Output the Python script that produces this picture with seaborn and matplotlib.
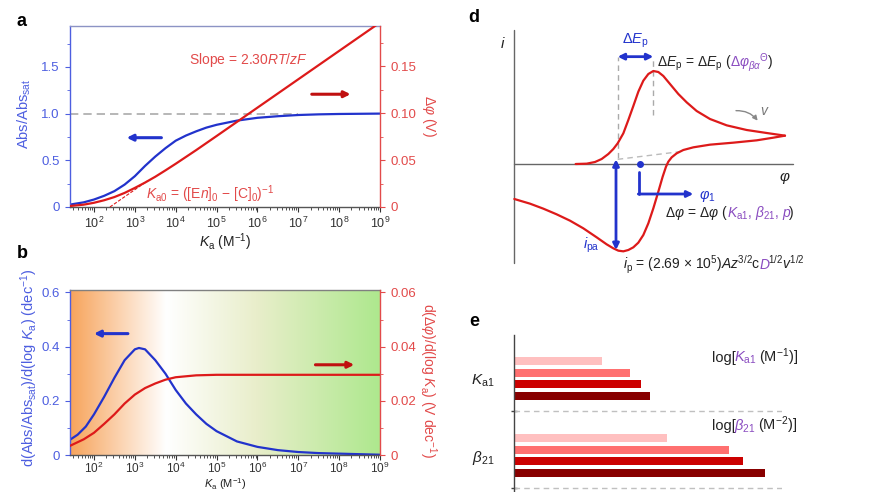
import numpy as np
import pandas as pd
import matplotlib
matplotlib.use("Agg")
import matplotlib.pyplot as plt
import seaborn as sns
from matplotlib.colors import LinearSegmentedColormap
from matplotlib.offsetbox import TextArea, HPacker, AnnotationBbox
from matplotlib.ticker import LogLocator, NullFormatter, FixedLocator

# ---------------- data ----------------
# panel a : Abs/Abs_sat (left axis) and delta-phi (right axis) vs log Ka
abs_logKa = [1.4, 1.75, 2.0, 2.25, 2.5, 2.75, 3.0, 3.25, 3.5, 3.75, 4.0, 4.25, 4.5, 4.75,
             5.0, 5.5, 6.0, 6.5, 7.0, 7.5, 8.0, 9.0]
abs_vals = [0.025, 0.05, 0.08, 0.12, 0.17, 0.24, 0.33, 0.44, 0.54, 0.63, 0.71, 0.765, 0.81,
            0.85, 0.88, 0.925, 0.955, 0.972, 0.985, 0.992, 0.996, 1.0]
dphi_logKa = [1.4, 1.75, 2.0, 2.25, 2.5, 2.75, 3.0, 3.25, 3.5, 3.75, 4.0, 4.5, 5.0, 6.0, 7.0, 8.0, 9.0]
dphi_vals = [0.001, 0.0025, 0.0045, 0.0072, 0.0106, 0.015, 0.0203, 0.026, 0.0322, 0.039,
             0.046, 0.0605, 0.0755, 0.1057, 0.1359, 0.1661, 0.1963]
asym_logKa = [2.39, 3.3]
asym_vals = [0.0, 0.0275]
sat_level = 1.0
sat_end_logKa = 7.0

# panel b : derivatives
dabs_logKa = [1.4, 1.6, 1.8, 2.0, 2.25, 2.5, 2.75, 3.0, 3.1, 3.25, 3.5, 3.75, 4.0, 4.25, 4.5,
              4.75, 5.0, 5.5, 6.0, 6.5, 7.0, 7.5, 8.0, 8.5, 9.0]
dabs_vals = [0.055, 0.075, 0.105, 0.15, 0.215, 0.285, 0.35, 0.39, 0.395, 0.39, 0.35, 0.30,
             0.24, 0.19, 0.15, 0.115, 0.088, 0.05, 0.03, 0.018, 0.011, 0.007, 0.005, 0.003, 0.001]
ddphi_logKa = [1.4, 1.75, 2.0, 2.25, 2.5, 2.75, 3.0, 3.25, 3.5, 3.75, 4.0, 4.5, 5.0, 6.0, 7.0, 8.0, 9.0]
ddphi_vals = [0.0033, 0.0058, 0.0082, 0.0115, 0.015, 0.019, 0.0223, 0.0247, 0.0264, 0.0278,
              0.0287, 0.0294, 0.0296, 0.0296, 0.0296, 0.0296, 0.0296]

# tick labels
x_tick_exp = [2, 3, 4, 5, 6, 7, 8, 9]
a_left_ticks = [0, 0.5, 1.0, 1.5]
a_left_labels = ["0", "0.5", "1.0", "1.5"]
a_right_ticks = [0, 0.05, 0.10, 0.15]
a_right_labels = ["0", "0.05", "0.10", "0.15"]
b_left_ticks = [0, 0.2, 0.4, 0.6]
b_left_labels = ["0", "0.2", "0.4", "0.6"]
b_right_ticks = [0, 0.02, 0.04, 0.06]
b_right_labels = ["0", "0.02", "0.04", "0.06"]

# panel d : schematic cyclic voltammogram (arbitrary units)
cv_fwd_phi = [1.84, 2.17, 2.42, 2.62, 2.82, 2.97, 3.10, 3.27, 3.42, 3.57, 3.72, 3.87, 4.02,
              4.17, 4.32, 4.47, 4.67, 4.92, 5.17, 5.47, 5.87, 6.37, 6.97, 7.57, 8.12]
cv_fwd_i = [0.00, 0.01, 0.06, 0.15, 0.30, 0.45, 0.62, 0.92, 1.32, 1.74, 2.17, 2.50, 2.70,
            2.79, 2.76, 2.64, 2.40, 2.10, 1.85, 1.59, 1.35, 1.16, 1.02, 0.93, 0.85]
cv_rev_phi = [8.12, 7.77, 7.27, 6.57, 5.87, 5.37, 5.07, 4.87, 4.72, 4.62, 4.55, 4.45, 4.32,
              4.17, 4.02, 3.87, 3.72, 3.57, 3.42, 3.27, 3.12, 2.97, 2.77, 2.47, 2.07, 1.67,
              1.27, 0.87, 0.47, 0.00]
cv_rev_i = [0.85, 0.79, 0.71, 0.64, 0.58, 0.50, 0.42, 0.32, 0.20, 0.07, -0.08, -0.38, -0.83,
            -1.33, -1.78, -2.13, -2.36, -2.50, -2.58, -2.62, -2.60, -2.53, -2.41, -2.20,
            -1.93, -1.70, -1.51, -1.34, -1.19, -1.05]
peak_fwd = (4.17, 2.79)
onset_phi = 3.10
baseline_phi = [3.10, 4.97]
baseline_i = [0.14, 0.37]
dEp_level = 3.22
ipa_phi = 3.05
ipa_range = [0.14, -2.58]
phi1_path_x = [3.75, 3.75, 5.37]
phi1_path_y = [-0.23, -0.90, -0.90]
phi1_dot = (3.77, 0.0)

# panel e : bar lengths (log units)
e_params = ["Ka1", "Ka1", "Ka1", "Ka1", "b21", "b21", "b21", "b21"]
e_levels = ["1", "2", "3", "4", "1", "2", "3", "4"]
e_values = [4.76, 6.27, 6.86, 7.35, 8.27, 11.62, 12.38, 13.57]
e_colors = ["#ffc0c0", "#ff7070", "#cc0000", "#880000"]
e_tick_labels = [r"$K_{\mathrm{a1}}$", r"$\beta_{21}$"]

# ---------------- style ----------------
sns.set_theme(style="ticks")
plt.rcParams["font.family"] = ["Liberation Sans", "DejaVu Sans"]
plt.rcParams.update({
    "mathtext.fontset": "custom",
    "mathtext.rm": "Liberation Sans",
    "mathtext.it": "Liberation Sans:italic",
    "mathtext.bf": "Liberation Sans:bold",
    "mathtext.sf": "Liberation Sans",
})

BLUE = "#2233cc"
BLUE_T = "#4d5ee0"
RED = "#dd1a1a"
RED_T = "#e24a4a"
PURPLE = "#8a4cc0"
GRAY = "#aaaaaa"

fig = plt.figure(figsize=(8.7, 4.92), dpi=100)


def fpos(l, t, r, b):
    return [l / 870, 1 - b / 492, (r - l) / 870, (b - t) / 492]


def ftext(x, y, s, **kw):
    fig.text(x / 870, 1 - y / 492, s, **kw)


def rich(ax, x, y, parts, size=10, ha=0.0, sep=-1.0):
    boxes = []
    for part in parts:
        t, c = part[0], part[1]
        extra = part[2] if len(part) > 2 else {}
        boxes.append(TextArea(t, textprops=dict(color=c, size=size, **extra)))
    pk = HPacker(children=boxes, align="baseline", pad=0, sep=sep)
    ab = AnnotationBbox(pk, (x, y), xycoords="data", frameon=False,
                        box_alignment=(ha, 0.5), pad=0)
    ax.add_artist(ab)


def style_pair(ax, ax2, lticks, llabels, lminor, rticks, rlabels, rminor, ylim_l, ylim_r, topcol,
               xpad=3, xsize=9):
    ax.set_xscale("log")
    ax.set_xlim(10 ** 1.413, 10 ** 9)
    ax.set_ylim(*ylim_l)
    ax2.set_ylim(*ylim_r)
    ax.xaxis.set_major_locator(FixedLocator([10.0 ** e for e in x_tick_exp]))
    ax.xaxis.set_minor_locator(LogLocator(base=10, subs=np.arange(2, 10)))
    ax.xaxis.set_minor_formatter(NullFormatter())
    ax.set_xticklabels([r"$10^{%d}$" % e for e in x_tick_exp])
    ax.set_yticks(lticks)
    ax.set_yticklabels(llabels)
    ax.yaxis.set_minor_locator(FixedLocator(lminor))
    ax2.set_yticks(rticks)
    ax2.set_yticklabels(rlabels)
    ax2.yaxis.set_minor_locator(FixedLocator(rminor))
    ax.tick_params(axis="x", which="major", length=3.5, width=0.8, labelsize=xsize,
                   colors="#333333", pad=xpad)
    ax.tick_params(axis="x", which="minor", length=2, width=0.6, colors="#333333")
    ax.tick_params(axis="y", which="major", length=3.5, width=0.8, labelsize=9.5,
                   colors=BLUE_T, pad=4)
    ax.tick_params(axis="y", which="minor", length=2, width=0.6, colors=BLUE_T)
    ax2.tick_params(axis="y", which="major", length=3.5, width=0.8, labelsize=9.5,
                    colors=RED_T, pad=4)
    ax2.tick_params(axis="y", which="minor", length=2, width=0.6, colors=RED_T)
    for s in ["left", "right", "top", "bottom"]:
        ax.spines[s].set_linewidth(1.0)
        ax2.spines[s].set_linewidth(1.0)
    ax.spines["left"].set_color(BLUE_T)
    ax.spines["right"].set_visible(False)
    ax.spines["top"].set_color(topcol)
    ax.spines["bottom"].set_color("#555555")
    ax2.spines["right"].set_color(RED_T)
    ax2.spines["left"].set_visible(False)
    ax2.spines["top"].set_visible(False)
    ax2.spines["bottom"].set_visible(False)
    ax.set_xlabel("")
    ax.set_ylabel("")
    ax2.set_ylabel("")


def arrow(ax, x0, x1, y, color):
    ax.annotate("", xy=(x1, y), xytext=(x0, y),
                arrowprops=dict(arrowstyle="-|>", color=color, lw=2.2,
                                mutation_scale=9, shrinkA=0, shrinkB=0))


# ---------------- panel a ----------------
ax_a = fig.add_axes(fpos(70, 26, 380, 207))
ax_a2 = ax_a.twinx()
ax_a.hlines(sat_level, 10 ** 1.413, 10 ** sat_end_logKa, colors=GRAY, linestyles=(0, (5, 3)), lw=1.2)
sns.lineplot(x=10 ** np.array(abs_logKa), y=abs_vals, ax=ax_a, color=BLUE, lw=1.6,
             estimator=None, sort=False)
sns.lineplot(x=10 ** np.array(asym_logKa), y=asym_vals, ax=ax_a2, color=RED, lw=0.8,
             ls=(0, (3, 1.5)), estimator=None, sort=False)
sns.lineplot(x=10 ** np.array(dphi_logKa), y=dphi_vals, ax=ax_a2, color=RED, lw=1.6,
             estimator=None, sort=False)
style_pair(ax_a, ax_a2, a_left_ticks, a_left_labels, [0.25, 0.75, 1.25, 1.75],
           a_right_ticks, a_right_labels, [0.025, 0.075, 0.125, 0.175],
           (0, 1.938), (0, 0.1926), "#8c93c4")
arrow(ax_a, 10 ** 3.65, 10 ** 2.8, 0.742, BLUE)
arrow(ax_a2, 10 ** 7.33, 10 ** 8.28, 0.120, "#c01010")
ax_a2.text(10 ** 5.77, 0.156, r"Slope = 2.30$RT$/$zF$", color=RED_T, fontsize=10,
           ha="center", va="center")
ax_a2.text(10 ** 3.27, 0.0135, r"$K_{\mathrm{a0}}$ = ([E$n$]$_{0}$ − [C]$_{0}$)$^{-1}$",
           color=RED_T, fontsize=10, ha="left", va="center")

ftext(24, 114, r"Abs/Abs$_{\mathrm{sat}}$", color=BLUE_T, fontsize=10.5, rotation=90,
      ha="center", va="center")
ftext(429, 116, r"Δ$\varphi$ (V)", color=RED_T, fontsize=10, rotation=270,
      ha="center", va="center")
ftext(225, 242, r"$K_{\mathrm{a}}$ (M$^{-1}$)", color="#222222", fontsize=10,
      ha="center", va="center")

# ---------------- panel b ----------------
pos_b = fpos(70, 290, 380, 455)
grad = LinearSegmentedColormap.from_list(
    "bg", [(0.0, "#f7a45c"), (0.31, "#ffffff"), (0.6, "#e9eecb"), (1.0, "#aee88e")])
ax_bg = fig.add_axes(pos_b)
ax_bg.imshow(np.linspace(0, 1, 512)[None, :], cmap=grad, aspect="auto", extent=[0, 1, 0, 1])
ax_bg.set_axis_off()
ax_b = fig.add_axes(pos_b)
ax_b.patch.set_visible(False)
ax_b2 = ax_b.twinx()
sns.lineplot(x=10 ** np.array(dabs_logKa), y=dabs_vals, ax=ax_b, color=BLUE, lw=1.6,
             estimator=None, sort=False)
sns.lineplot(x=10 ** np.array(ddphi_logKa), y=ddphi_vals, ax=ax_b2, color=RED, lw=1.6,
             estimator=None, sort=False)
style_pair(ax_b, ax_b2, b_left_ticks, b_left_labels, [0.1, 0.3, 0.5],
           b_right_ticks, b_right_labels, [0.01, 0.03, 0.05],
           (0, 0.609), (0, 0.0609), "#808080", xpad=1.0, xsize=8.5)
arrow(ax_b, 10 ** 2.83, 10 ** 2.0, 0.448, BLUE)
arrow(ax_b2, 10 ** 7.42, 10 ** 8.37, 0.0333, "#c01010")

ftext(29, 368, r"d(Abs/Abs$_{\mathrm{sat}}$)/d(log $K_{\mathrm{a}}$) (dec$^{-1}$)",
      color=BLUE_T, fontsize=10.5, rotation=90, ha="center", va="center")
ftext(428, 380, r"d(Δ$\varphi$)/d(log $K_{\mathrm{a}}$) (V dec$^{-1}$)",
      color=RED_T, fontsize=10, rotation=270, ha="center", va="center")
ftext(225, 484, r"$K_{\mathrm{a}}$ (M$^{-1}$)", color="#222222", fontsize=8,
      ha="center", va="center")

# ---------------- panel d ----------------
ax_d = fig.add_axes(fpos(480, 0, 870, 280))
ax_d.set_xlim(-1.03, 10.67)
ax_d.set_ylim(-3.48, 4.92)
ax_d.set_axis_off()
# coordinate axes of the schematic
ax_d.axvline(0, ymin=(-2.98 + 3.48) / 8.4, ymax=(4.02 + 3.48) / 8.4, color="#666666", lw=1.0)
ax_d.axhline(0, xmin=1.03 / 11.7, xmax=(8.35 + 1.03) / 11.7, color="#666666", lw=1.0)
# guide lines
ax_d.vlines(onset_phi, 0.17, dEp_level, colors=GRAY, linestyles=(0, (4, 3)), lw=1.0)
ax_d.vlines(peak_fwd[0], 1.47, dEp_level, colors=GRAY, linestyles=(0, (4, 3)), lw=1.0)
ax_d.plot(baseline_phi, baseline_i, color="#bbbbbb", ls=(0, (4, 3)), lw=1.0)
# CV curve
sns.lineplot(x=cv_fwd_phi, y=cv_fwd_i, ax=ax_d, color=RED, lw=1.6, estimator=None, sort=False)
sns.lineplot(x=cv_rev_phi, y=cv_rev_i, ax=ax_d, color=RED, lw=1.6, estimator=None, sort=False)
ax_d.set_xlim(-1.03, 10.67)
ax_d.set_ylim(-3.48, 4.92)
ax_d.set_xlabel("")
ax_d.set_ylabel("")
# blue annotations
ax_d.annotate("", xy=(peak_fwd[0], dEp_level), xytext=(onset_phi, dEp_level),
              arrowprops=dict(arrowstyle="<|-|>", color=BLUE, lw=2.0, mutation_scale=9,
                              shrinkA=0, shrinkB=0))
ax_d.annotate("", xy=(ipa_phi, ipa_range[1]), xytext=(ipa_phi, ipa_range[0]),
              arrowprops=dict(arrowstyle="<|-|>", color=BLUE, lw=2.0, mutation_scale=9,
                              shrinkA=0, shrinkB=0))
ax_d.plot(phi1_path_x[:2], phi1_path_y[:2], color=BLUE, lw=2.0)
ax_d.annotate("", xy=(phi1_path_x[2], phi1_path_y[2]), xytext=(phi1_path_x[1] - 0.03, phi1_path_y[1]),
              arrowprops=dict(arrowstyle="-|>", color=BLUE, lw=2.0, mutation_scale=9,
                              shrinkA=0, shrinkB=0))
ax_d.plot([phi1_dot[0]], [phi1_dot[1]], "o", color=BLUE, ms=4)
ax_d.annotate("", xy=(7.3, 1.3), xytext=(6.65, 1.6),
              arrowprops=dict(arrowstyle="-|>", color="#888888", lw=1.0, mutation_scale=7,
                              connectionstyle="arc3,rad=-0.25", shrinkA=0, shrinkB=0))
ax_d.text(7.5, 1.6, r"$v$", color="#777777", fontsize=10, ha="center", va="center")
ax_d.text(-0.33, 3.62, r"$i$", color="#222222", fontsize=11, ha="center", va="center")
ax_d.text(8.12, -0.43, r"$\varphi$", color="#222222", fontsize=11, ha="center", va="center")
ax_d.text(3.62, 3.68, r"Δ$E_{\mathrm{p}}$", color=BLUE, fontsize=10.5, ha="center", va="center")
ax_d.text(2.32, -2.45, r"$i_{\mathrm{pa}}$", color=BLUE, fontsize=10.5, ha="center", va="center")
ax_d.text(5.55, -0.95, r"$\varphi_{1}$", color=BLUE, fontsize=10.5, ha="left", va="center")
rich(ax_d, 4.27, 3.05, [(r"Δ$E_{\mathrm{p}}$ = Δ$E_{\mathrm{p}}$ (", "#222222"),
                        (r"Δ$\varphi_{\beta\alpha}$$^{\Theta}$", PURPLE),
                        (")", "#222222")], size=10)
rich(ax_d, 4.52, -1.48, [(r"Δ$\varphi$ = Δ$\varphi$ (", "#222222"),
                         (r"$K_{\mathrm{a1}}$, $\beta_{21}$, $p$", PURPLE),
                         (")", "#222222")], size=10)
rich(ax_d, 3.27, -3.02, [(r"$i_{\mathrm{p}}$ = (2.69 × 10$^{5}$)$Az^{3/2}$c", "#222222"),
                         ("D", PURPLE, dict(style="italic")),
                         (r"$^{1/2}v^{1/2}$", "#222222")], size=10)

# ---------------- panel e ----------------
ax_e = fig.add_axes(fpos(514, 335, 782, 500))
df_e = pd.DataFrame({"param": e_params, "level": e_levels, "value": e_values})
sns.barplot(data=df_e, x="value", y="param", hue="level", palette=e_colors, orient="h",
            width=0.61, gap=0.3, saturation=1, linewidth=0, legend=False, ax=ax_e)
ax_e.set_xlim(0, 14.5)
ax_e.set_ylim(1.578, -0.565)
for s in ["right", "top", "bottom"]:
    ax_e.spines[s].set_visible(False)
ax_e.spines["left"].set_color("#444444")
ax_e.spines["left"].set_linewidth(1.0)
ax_e.set_xticks([])
ax_e.set_yticks([0, 1])
ax_e.set_yticklabels(e_tick_labels)
ax_e.set_yticks([0.42, 1.42], minor=True)
ax_e.tick_params(axis="y", which="major", length=0, pad=14, labelsize=11, colors="#222222")
ax_e.tick_params(axis="y", which="minor", length=5, direction="inout", color="#444444", width=1)
for sep in [0.42, 1.42]:
    ax_e.axhline(sep, color="#c0c0c0", ls=(0, (4, 3)), lw=1.0)
ax_e.set_xlabel("")
ax_e.set_ylabel("")
rich(ax_e, 10.7, -0.28, [("log[", "#222222"), (r"$K_{\mathrm{a1}}$", PURPLE),
                         (r" (M$^{-1}$)]", "#222222")], size=10.5)
rich(ax_e, 10.7, 0.61, [("log[", "#222222"), (r"$\beta_{21}$", PURPLE),
                        (r" (M$^{-2}$)]", "#222222")], size=10.5)

# ---------------- panel letters ----------------
for lab, (x, y) in {"a": (22, 21), "b": (22, 254), "d": (474, 18), "e": (474, 322)}.items():
    ftext(x, y, lab, fontsize=13, fontweight="bold", color="black", ha="center", va="center")

fig.savefig("out.png", dpi=100)
